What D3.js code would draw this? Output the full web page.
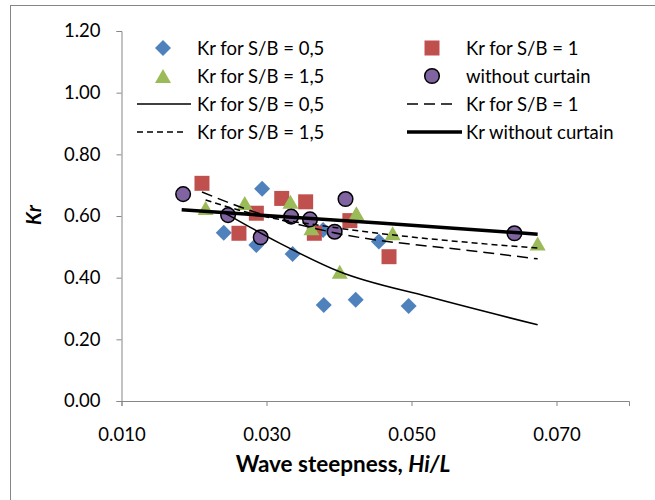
<!DOCTYPE html>
<html>
<head>
<meta charset="utf-8">
<script src="https://cdn.jsdelivr.net/npm/d3@7"></script>
<style>
    body { margin: 0; background: #fff; }
    text { font-family: Lato, "Open Sans", sans-serif; fill: #000; }
</style>
</head>
<body>
<div id="chart"></div>
<script>

// measured points, S/B = 0,5
var sb05X = [0.0241, 0.0286, 0.0294, 0.0336, 0.0378, 0.0379, 0.0423, 0.0455, 0.0496];
var sb05Y = [0.546, 0.506, 0.688, 0.477, 0.555, 0.311, 0.328, 0.517, 0.308];

// measured points, S/B = 1
var sb1X = [0.0211, 0.0286, 0.0262, 0.0321, 0.0354, 0.0366, 0.0415, 0.0469];
var sb1Y = [0.706, 0.609, 0.544, 0.657, 0.646, 0.544, 0.585, 0.468];

// measured points, S/B = 1,5
var sb15X = [0.0216, 0.0270, 0.0333, 0.0362, 0.0401, 0.0424, 0.0474, 0.0674];
var sb15Y = [0.626, 0.642, 0.646, 0.560, 0.419, 0.609, 0.544, 0.511];

// measured points, without curtain
var noneX = [0.0185, 0.0247, 0.0292, 0.0334, 0.0360, 0.0394, 0.0409, 0.0642];
var noneY = [0.671, 0.603, 0.531, 0.598, 0.589, 0.549, 0.655, 0.544];

// fitted curves
var fit05X = [0.0241, 0.0318, 0.0401, 0.0525, 0.0674];
var fit05Y = [0.612, 0.512, 0.419, 0.337, 0.247];
var fit1X = [0.0211, 0.0281, 0.0387, 0.0594, 0.0674];
var fit1Y = [0.678, 0.615, 0.549, 0.484, 0.461];
var fit15X = [0.0216, 0.0281, 0.0387, 0.0594, 0.0674];
var fit15Y = [0.652, 0.607, 0.565, 0.511, 0.496];
var fitNoneX = [0.0183, 0.0456, 0.0674];
var fitNoneY = [0.620, 0.577, 0.541];

// axis ticks
var xTicks = [0.010, 0.030, 0.050, 0.070];
var yTicks = [0.00, 0.20, 0.40, 0.60, 0.80, 1.00, 1.20];

var legendLabels = ["Kr for S/B = 0,5", "Kr for S/B = 1", "Kr for S/B = 1,5", "without curtain",
    "Kr for S/B = 0,5", "Kr for S/B = 1", "Kr for S/B = 1,5", "Kr without curtain"];

var svgWidth = 655;
var svgHeight = 500;

var svg = d3.select("#chart")
    .append("svg")
    .attr("width", svgWidth)
    .attr("height", svgHeight);

// chart border (right and bottom edges fall outside the picture)
svg.append("rect")
    .attr("x", 10.5)
    .attr("y", 5.5)
    .attr("width", 660)
    .attr("height", 510)
    .attr("fill", "none")
    .attr("stroke", "#868686")
    .attr("stroke-width", 1);

// scales
var xScale = d3.scaleLinear().domain([0.01, 0.08]).range([121.5, 629]);
var yScale = d3.scaleLinear().domain([0, 1.2]).range([401, 31]);

// axes
var xAxis = svg.append("g")
    .attr("transform", "translate(0, 401)")
    .call(d3.axisBottom(xScale).tickValues(xTicks).tickFormat(d3.format(".3f")).tickSizeOuter(0).tickSize(5));

var yAxis = svg.append("g")
    .attr("transform", "translate(121.5, 0)")
    .call(d3.axisLeft(yScale).tickValues(yTicks).tickFormat(d3.format(".2f")).tickSizeOuter(0).tickSize(5));

[xAxis, yAxis].forEach(function(ax) {
    ax.select(".domain").attr("stroke", "#868686");
    ax.selectAll(".tick line").attr("stroke", "#868686");
    ax.selectAll(".tick text")
        .attr("font-size", "18.5px")
        .attr("font-family", "Lato, sans-serif")
        .attr("fill", "#000");
});
xAxis.selectAll(".tick text").attr("dy", "0").attr("y", 40);
yAxis.selectAll(".tick text").attr("x", -21);

// axis titles
var xTitle = svg.append("text")
    .attr("x", 343)
    .attr("y", 472)
    .attr("text-anchor", "middle")
    .attr("font-size", "22.5px")
    .attr("font-weight", "bold");
xTitle.append("tspan").text("Wave steepness, ");
xTitle.append("tspan").attr("font-style", "italic").text("Hi/L");

svg.append("text")
    .attr("transform", "translate(41, 215) rotate(-90)")
    .attr("text-anchor", "middle")
    .attr("font-size", "20px")
    .attr("font-weight", "bold")
    .attr("font-style", "italic")
    .text("Kr");

// marker shapes
function markerPath(type) {
    if (type == "diamond") return "M0,-8L8,0L0,8L-8,0Z";
    if (type == "square") return "M-7.5,-7.5H7.5V7.5H-7.5Z";
    return "M0,-7L8,7L-8,7Z";
}

function drawMarkers(xs, ys, type, color) {
    var pts = xs.map((x, i) => ({x: x, y: ys[i]}));
    if (type == "circle") {
        svg.append("g").selectAll("circle")
            .data(pts)
            .enter()
            .append("circle")
            .attr("cx", d => xScale(d.x))
            .attr("cy", d => yScale(d.y))
            .attr("r", 7.3)
            .attr("fill", color)
            .attr("stroke", "#000")
            .attr("stroke-width", 1.5);
    } else {
        svg.append("g").selectAll("path")
            .data(pts)
            .enter()
            .append("path")
            .attr("transform", d => `translate(${xScale(d.x)}, ${yScale(d.y)})`)
            .attr("d", markerPath(type))
            .attr("fill", color);
    }
}

drawMarkers(sb05X, sb05Y, "diamond", "#4F81BD");
drawMarkers(sb1X, sb1Y, "square", "#C0504D");
drawMarkers(sb15X, sb15Y, "triangle", "#9BBB59");
drawMarkers(noneX, noneY, "circle", "#8064A2");

// fitted lines
var lineGen = d3.line()
    .x(d => xScale(d.x))
    .y(d => yScale(d.y))
    .curve(d3.curveMonotoneX);

var lineStyles = [
    {xs: fit05X, ys: fit05Y, width: 1.5, dash: null},
    {xs: fit1X, ys: fit1Y, width: 1.5, dash: "11,6"},
    {xs: fit15X, ys: fit15Y, width: 1.5, dash: "6,4"},
    {xs: fitNoneX, ys: fitNoneY, width: 3.5, dash: null}
];

lineStyles.forEach(function(s) {
    svg.append("path")
        .datum(s.xs.map((x, i) => ({x: x, y: s.ys[i]})))
        .attr("d", lineGen)
        .attr("fill", "none")
        .attr("stroke", "#000")
        .attr("stroke-width", s.width)
        .attr("stroke-dasharray", s.dash);
});

// legend
var legendRows = [48, 76, 104, 132];
var legendCols = [{marker: 163, lineX: 137, text: 197}, {marker: 432, lineX: 407, text: 466}];
var legendMarkers = [
    {type: "diamond", color: "#4F81BD"}, {type: "square", color: "#C0504D"},
    {type: "triangle", color: "#9BBB59"}, {type: "circle", color: "#8064A2"}
];
var legendLines = [
    {len: 54, width: 1.5, dash: null}, {len: 47, width: 1.5, dash: "11,6"},
    {len: 50, width: 1.5, dash: "6,4"}, {len: 55, width: 3.5, dash: null}
];

var legend = svg.append("g");

legendLabels.forEach(function(label, i) {
    var col = legendCols[i % 2];
    var rowY = legendRows[Math.floor(i / 2)];
    if (i < 4) {
        var m = legendMarkers[i];
        if (m.type == "circle") {
            legend.append("circle")
                .attr("cx", col.marker)
                .attr("cy", rowY)
                .attr("r", 7.3)
                .attr("fill", m.color)
                .attr("stroke", "#000")
                .attr("stroke-width", 1.5);
        } else {
            legend.append("path")
                .attr("transform", `translate(${col.marker}, ${rowY})`)
                .attr("d", markerPath(m.type))
                .attr("fill", m.color);
        }
    } else {
        var l = legendLines[i - 4];
        legend.append("line")
            .attr("x1", col.lineX)
            .attr("x2", col.lineX + l.len)
            .attr("y1", rowY)
            .attr("y2", rowY)
            .attr("stroke", "#000")
            .attr("stroke-width", l.width)
            .attr("stroke-dasharray", l.dash);
    }
    legend.append("text")
        .attr("x", col.text)
        .attr("y", rowY + 6.5)
        .attr("font-size", "18.5px")
        .text(label);
});

</script>
</body>
</html>
